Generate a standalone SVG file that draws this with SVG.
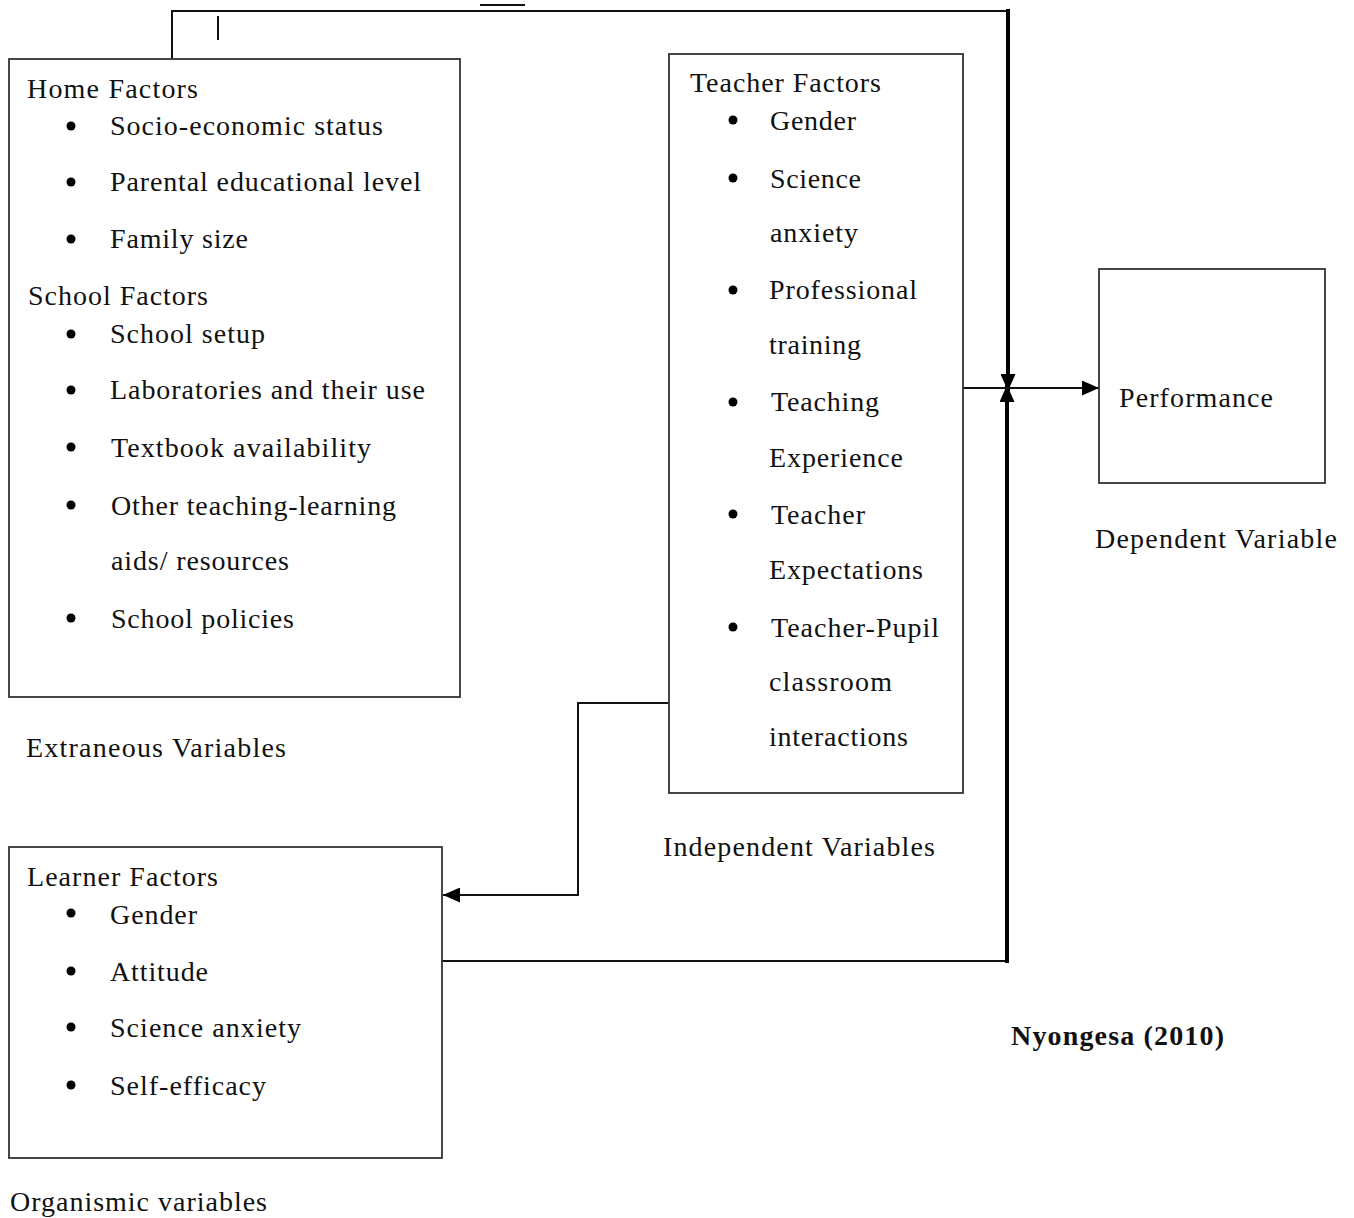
<svg xmlns="http://www.w3.org/2000/svg" width="1354" height="1218" viewBox="0 0 1354 1218">
<style>
text{font-family:"Liberation Serif","Times New Roman",serif;font-size:28px;fill:#111}
.b{font-weight:bold}
.box{fill:#fff;stroke:#333;stroke-width:1.8}
.thin{fill:none;stroke:#111;stroke-width:2}
.thick{fill:none;stroke:#000;stroke-width:4}
.dot{fill:#000}
</style>
<defs>
<marker id="ah" markerUnits="userSpaceOnUse" markerWidth="17" markerHeight="15" refX="17" refY="7.5" orient="auto">
<path d="M0,0 L17,7.5 L0,15 Z" fill="#000"/>
</marker>
</defs>
<rect width="1354" height="1218" fill="#fff"/>
<g id="connectors">
<polyline class="thin" points="172,59 172,11 1009,11"/>
<line class="thin" x1="218" y1="16" x2="218" y2="40"/>
<line class="thin" x1="480" y1="5" x2="525" y2="5"/>
<line class="thick" x1="1008" y1="9" x2="1008" y2="391" marker-end="url(#ah)"/>
<polyline class="thin" points="442,961 1007,961"/>
<line class="thick" x1="1007" y1="963" x2="1007" y2="385" marker-end="url(#ah)"/>
<line class="thin" stroke-width="3" x1="963" y1="388" x2="1099" y2="388" marker-end="url(#ah)"/>
<polyline class="thin" points="669,703 578,703 578,895"/>
<line class="thin" stroke-width="3" x1="579" y1="895" x2="443" y2="895" marker-end="url(#ah)"/>
</g>
<g id="home-school">
<rect class="box" x="9" y="59" width="451" height="638"/>
<text x="27" y="98" textLength="171">Home Factors</text>
<circle class="dot" cx="71" cy="126" r="4.5"/><text x="110" y="135" textLength="273">Socio-economic status</text>
<circle class="dot" cx="71" cy="182" r="4.5"/><text x="110" y="191" textLength="311">Parental educational level</text>
<circle class="dot" cx="71" cy="239" r="4.5"/><text x="110" y="248" textLength="138">Family size</text>
<text x="28" y="305" textLength="180">School Factors</text>
<circle class="dot" cx="71" cy="334" r="4.5"/><text x="110" y="343" textLength="155">School setup</text>
<circle class="dot" cx="71" cy="390" r="4.5"/><text x="110" y="399" textLength="315">Laboratories and their use</text>
<circle class="dot" cx="71" cy="447" r="4.5"/><text x="111" y="457" textLength="260">Textbook availability</text>
<circle class="dot" cx="71" cy="505" r="4.5"/><text x="111" y="515" textLength="285">Other teaching-learning</text>
<text x="111" y="570" textLength="178">aids/ resources</text>
<circle class="dot" cx="71" cy="618" r="4.5"/><text x="111" y="628" textLength="183">School policies</text>
</g>
<text id="label-extraneous" x="26" y="757" textLength="260">Extraneous Variables</text>
<g id="teacher">
<rect class="box" x="669" y="54" width="294" height="739"/>
<text x="690" y="92" textLength="191">Teacher Factors</text>
<circle class="dot" cx="733" cy="120" r="4.5"/><text x="770" y="130" textLength="86">Gender</text>
<circle class="dot" cx="733" cy="178" r="4.5"/><text x="770" y="188" textLength="91">Science</text>
<text x="770" y="242" textLength="88">anxiety</text>
<circle class="dot" cx="733" cy="290" r="4.5"/><text x="769" y="299" textLength="148">Professional</text>
<text x="769" y="354" textLength="92">training</text>
<circle class="dot" cx="733" cy="402" r="4.5"/><text x="771" y="411" textLength="108">Teaching</text>
<text x="769" y="467" textLength="134">Experience</text>
<circle class="dot" cx="733" cy="514" r="4.5"/><text x="771" y="524" textLength="94">Teacher</text>
<text x="769" y="579" textLength="154">Expectations</text>
<circle class="dot" cx="733" cy="627" r="4.5"/><text x="771" y="637" textLength="168">Teacher-Pupil</text>
<text x="769" y="691" textLength="123">classroom</text>
<text x="769" y="746" textLength="139">interactions</text>
</g>
<text id="label-independent" x="663" y="856" textLength="272">Independent Variables</text>
<g id="performance">
<rect class="box" x="1099" y="269" width="226" height="214"/>
<text x="1119" y="407" textLength="154">Performance</text>
</g>
<text id="label-dependent" x="1095" y="548" textLength="242">Dependent Variable</text>
<text id="citation" class="b" x="1011" y="1045" textLength="213">Nyongesa (2010)</text>
<g id="learner">
<rect class="box" x="9" y="847" width="433" height="311"/>
<text x="27" y="886" textLength="191">Learner Factors</text>
<circle class="dot" cx="71" cy="913" r="4.5"/><text x="110" y="924" textLength="87">Gender</text>
<circle class="dot" cx="71" cy="971" r="4.5"/><text x="110" y="981" textLength="98">Attitude</text>
<circle class="dot" cx="71" cy="1027" r="4.5"/><text x="110" y="1037" textLength="191">Science anxiety</text>
<circle class="dot" cx="71" cy="1085" r="4.5"/><text x="110" y="1095" textLength="156">Self-efficacy</text>
</g>
<text id="label-organismic" x="10" y="1211" textLength="257">Organismic variables</text>
</svg>
